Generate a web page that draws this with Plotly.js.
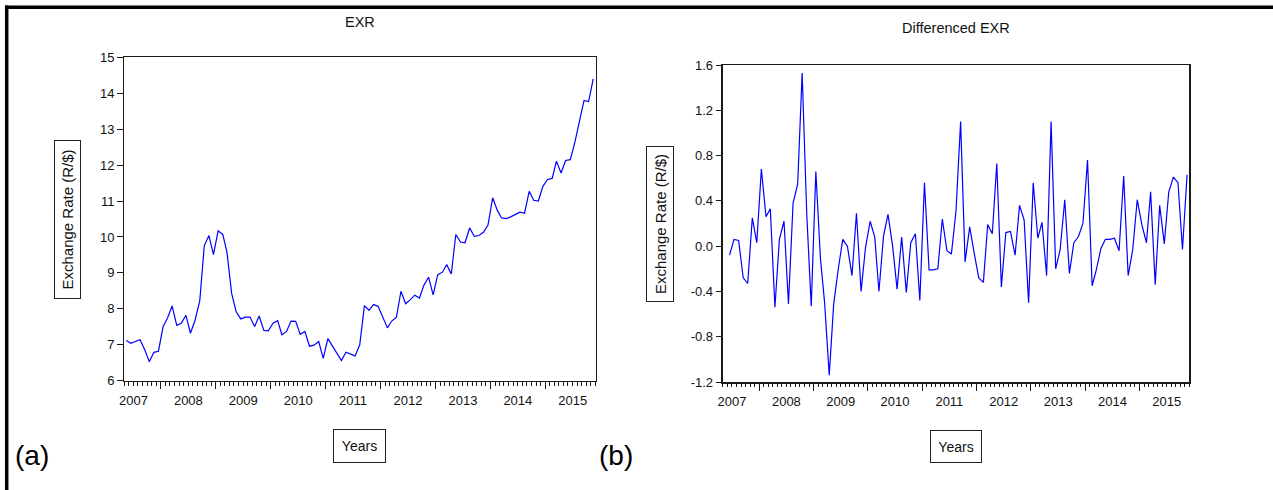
<!DOCTYPE html>
<html><head><meta charset="utf-8">
<script src="https://cdn.plot.ly/plotly-3.0.1.min.js"></script>
<style>html,body{margin:0;padding:0;background:#fff}#chart{width:1273px;height:490px}</style>
</head><body><div id="chart"></div>
<script>
// Monthly sample: May 2007 .. Nov 2015
const startYear = 2007, startMonth = 5;

// EXR level (R/$)
const exr = [7.12, 7.04, 7.09, 7.14, 6.86, 6.53, 6.79, 6.82, 7.50, 7.76,
  8.08, 7.54, 7.60, 7.82, 7.32, 7.69, 8.23, 9.76, 10.04, 9.51,
  10.17, 10.07, 9.57, 8.43, 7.92, 7.72, 7.77, 7.77, 7.51, 7.80,
  7.40, 7.39, 7.60, 7.67, 7.28, 7.37, 7.66, 7.65, 7.29, 7.37,
  6.96, 6.99, 7.09, 6.62, 7.17, 6.96, 6.76, 6.56, 6.79, 6.75,
  6.69, 7.00, 8.09, 7.96, 8.12, 8.07, 7.78, 7.47, 7.66, 7.77,
  8.49, 8.14, 8.25, 8.38, 8.30, 8.66, 8.88, 8.39, 8.95, 9.02,
  9.23, 8.97, 10.07, 9.86, 9.84, 10.25, 10.02, 10.04, 10.13, 10.33,
  11.09, 10.74, 10.53, 10.51, 10.56, 10.62, 10.69, 10.66, 11.27, 11.02,
  11.00, 11.41, 11.60, 11.63, 12.11, 11.78, 12.13, 12.15, 12.62, 13.22,
  13.80, 13.77, 14.40];

// Differenced EXR (starts Jun 2007)
const dexr = [-0.08, 0.06, 0.05, -0.28, -0.33, 0.25, 0.03, 0.68, 0.26, 0.33,
  -0.54, 0.06, 0.22, -0.51, 0.38, 0.55, 1.53, 0.28, -0.53, 0.66,
  -0.11, -0.50, -1.14, -0.51, -0.20, 0.06, 0.00, -0.26, 0.29, -0.40,
  -0.01, 0.22, 0.08, -0.40, 0.09, 0.28, 0.00, -0.38, 0.08, -0.41,
  0.03, 0.11, -0.48, 0.56, -0.21, -0.21, -0.20, 0.24, -0.04, -0.07,
  0.31, 1.10, -0.14, 0.17, -0.06, -0.28, -0.32, 0.19, 0.11, 0.73,
  -0.36, 0.12, 0.13, -0.08, 0.36, 0.23, -0.50, 0.56, 0.07, 0.21,
  -0.26, 1.10, -0.20, -0.03, 0.41, -0.24, 0.03, 0.085, 0.20, 0.76,
  -0.35, -0.21, -0.02, 0.06, 0.06, 0.07, -0.04, 0.62, -0.26, -0.03,
  0.41, 0.19, 0.03, 0.48, -0.34, 0.36, 0.02, 0.48, 0.61, 0.56,
  -0.03, 0.63];

const levelTickVals = [6, 7, 8, 9, 10, 11, 12, 13, 14, 15];
const diffTickVals = [-1.2, -0.8, -0.4, 0.0, 0.4, 0.8, 1.2, 1.6];
const diffTickText = ['-1.2', '-0.8', '-0.4', '0.0', '0.4', '0.8', '1.2', '1.6'];

function monthDates(n, offset) {
  const out = [];
  for (let i = 0; i < n; i++) {
    const k = startMonth - 1 + offset + i;
    const y = startYear + Math.floor(k / 12);
    const m = (k % 12) + 1;
    out.push(y + '-' + String(m).padStart(2, '0') + '-16');
  }
  return out;
}
const levelDates = monthDates(exr.length, 0);
const diffDates = monthDates(dexr.length, 1);

const W = 1273, H = 490;
const px = v => v / W, py = v => 1 - v / H;
const ink = '#1a1a1a';
const sans = 'Liberation Sans, Arial, sans-serif';
const tickFont = {family: sans, size: 13, color: '#111'};

function xAxis(domain, anchor) {
  return {
    domain: domain, anchor: anchor, type: 'date',
    range: ['2007-05-01', '2015-12-01'],
    dtick: 'M12', tick0: '2007-01-01', ticklabelmode: 'period', tickformat: '%Y',
    ticks: 'outside', ticklen: 7, tickwidth: 1, tickcolor: ink,
    minor: {dtick: 'M1', tick0: '2007-01-01', ticks: 'outside', ticklen: 3.5, tickwidth: 1, tickcolor: ink, showgrid: false},
    showline: true, mirror: true, linecolor: ink, linewidth: 1.5,
    showgrid: false, zeroline: false, tickfont: tickFont, fixedrange: true
  };
}
function yAxis(domain, anchor, extra) {
  return Object.assign({
    domain: domain, anchor: anchor,
    ticks: 'outside', ticklen: 5.5, tickwidth: 1, tickcolor: ink,
    showline: true, mirror: true, linecolor: ink, linewidth: 1.5,
    showgrid: false, zeroline: false, tickfont: tickFont, fixedrange: true
  }, extra);
}

const traces = [
  {x: levelDates, y: exr, type: 'scatter', mode: 'lines', xaxis: 'x', yaxis: 'y',
   line: {color: '#0000ff', width: 1.2}, hoverinfo: 'x+y'},
  {x: diffDates, y: dexr, type: 'scatter', mode: 'lines', xaxis: 'x2', yaxis: 'y2',
   line: {color: '#0000ff', width: 1.2}, hoverinfo: 'x+y'}
];

const layout = {
  width: W, height: H, showlegend: false,
  paper_bgcolor: '#fff', plot_bgcolor: '#fff',
  margin: {l: 0, r: 0, t: 0, b: 0},
  xaxis: xAxis([px(124), px(595.5)], 'y'),
  yaxis: yAxis([py(380.7), py(57.3)], 'x', {range: [6, 15], tickvals: levelTickVals}),
  xaxis2: xAxis([px(722.7), px(1189.3)], 'y2'),
  yaxis2: yAxis([py(382), py(65)], 'x2', {range: [-1.2, 1.6], tickvals: diffTickVals, ticktext: diffTickText}),
  shapes: [
    {type: 'line', xref: 'paper', yref: 'paper', x0: px(5), x1: 1, y0: py(7.3), y1: py(7.3), line: {color: '#000', width: 3.5}},
    {type: 'line', xref: 'paper', yref: 'paper', x0: px(6.7), x1: px(6.7), y0: 0, y1: py(5.6), line: {color: '#000', width: 3.5}}
  ],
  annotations: [
    {text: 'EXR', xref: 'paper', yref: 'paper', x: px(359.7), y: py(22), xanchor: 'center', yanchor: 'middle', showarrow: false,
     font: {family: sans, size: 14.5, color: '#111'}},
    {text: 'Differenced EXR', xref: 'paper', yref: 'paper', x: px(955.5), y: py(28.3), xanchor: 'center', yanchor: 'middle', showarrow: false,
     font: {family: sans, size: 14.5, color: '#111'}},
    {text: 'Exchange Rate (R/$)', xref: 'paper', yref: 'paper', x: px(67.5), y: py(219.5), xanchor: 'center', yanchor: 'middle', showarrow: false,
     textangle: -90, width: 157, height: 25, borderpad: 0, bordercolor: '#222', borderwidth: 1,
     font: {family: sans, size: 15, color: '#111'}},
    {text: 'Exchange Rate (R/$)', xref: 'paper', yref: 'paper', x: px(660), y: py(224), xanchor: 'center', yanchor: 'middle', showarrow: false,
     textangle: -90, width: 154, height: 26, borderpad: 0, bordercolor: '#222', borderwidth: 1,
     font: {family: sans, size: 15, color: '#111'}},
    {text: 'Years', xref: 'paper', yref: 'paper', x: px(359.5), y: py(446), xanchor: 'center', yanchor: 'middle', showarrow: false,
     width: 51, height: 32, borderpad: 0, bordercolor: '#222', borderwidth: 1,
     font: {family: sans, size: 14, color: '#111'}},
    {text: 'Years', xref: 'paper', yref: 'paper', x: px(956), y: py(446.5), xanchor: 'center', yanchor: 'middle', showarrow: false,
     width: 50, height: 31, borderpad: 0, bordercolor: '#222', borderwidth: 1,
     font: {family: sans, size: 14, color: '#111'}},
    {text: '(a)', xref: 'paper', yref: 'paper', x: px(32), y: py(455), xanchor: 'center', yanchor: 'middle', showarrow: false,
     font: {family: sans, size: 28, color: '#000'}},
    {text: '(b)', xref: 'paper', yref: 'paper', x: px(616), y: py(455), xanchor: 'center', yanchor: 'middle', showarrow: false,
     font: {family: sans, size: 28, color: '#000'}}
  ]
};

Plotly.newPlot('chart', traces, layout, {displayModeBar: false, staticPlot: true});
</script>
</body></html>
